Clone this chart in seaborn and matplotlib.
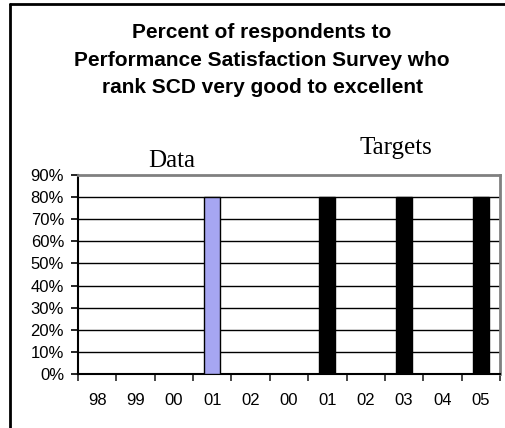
import matplotlib
matplotlib.use("Agg")
import matplotlib.pyplot as plt
from matplotlib.lines import Line2D
from matplotlib.ticker import MultipleLocator, FixedLocator, PercentFormatter
import seaborn as sns
import pandas as pd

# Year labels along the x axis (survey years, then target years)
year_labels = ["98", "99", "00", "01", "02", "00", "01", "02", "03", "04", "05"]

# Measured survey result
data_positions = [3]
data_values = [80]

# Target levels
target_positions = [6, 8, 10]
target_values = [80, 80, 80]

series_colors = {"Data": "#9999FF", "Targets": "#000000"}

df = pd.DataFrame({
    "pos": data_positions + target_positions,
    "value": data_values + target_values,
    "series": ["Data"] * len(data_positions) + ["Targets"] * len(target_positions),
})

sns.set_style("white")
plt.rcParams["font.family"] = ["Liberation Sans", "DejaVu Sans"]

W, H = 505, 428
fig = plt.figure(figsize=(W / 100, H / 100), dpi=100)
ax = fig.add_axes([78 / W, 1 - 374 / H, (500 - 78) / W, (374 - 175) / H])

sns.barplot(data=df, x="pos", y="value", hue="series", order=list(range(len(year_labels))),
            palette=series_colors, dodge=False, width=0.42, edgecolor="black",
            linewidth=1.0, legend=False, ax=ax, zorder=3)

ax.set_xlim(-0.5, len(year_labels) - 0.5)
ax.set_ylim(0, 90)

# Horizontal gridlines every 10%
for v in range(10, 90, 10):
    ax.axhline(v, color="black", linewidth=1.0, zorder=1)

ax.yaxis.set_major_locator(MultipleLocator(10))
ax.yaxis.set_major_formatter(PercentFormatter(decimals=0))
ax.tick_params(axis="y", which="major", length=5, width=1.2, direction="out",
               left=True, pad=5, labelsize=12, colors="black")

ax.set_xticks(range(len(year_labels)))
ax.set_xticklabels(year_labels)
ax.xaxis.set_minor_locator(FixedLocator([i - 0.5 for i in range(len(year_labels) + 1)]))
ax.tick_params(axis="x", which="major", length=0, pad=14, labelsize=12, colors="black")
ax.tick_params(axis="x", which="minor", length=5, width=1.2, direction="out", bottom=True)

ax.set_xlabel("")
ax.set_ylabel("")

for side in ("left", "bottom"):
    ax.spines[side].set_color("black")
    ax.spines[side].set_linewidth(1.5)
for side in ("top", "right"):
    ax.spines[side].set_color("#808080")
    ax.spines[side].set_linewidth(2.0)
    ax.spines[side].set_visible(True)

# Title block
title_lines = ["Percent of respondents to",
               "Performance Satisfaction Survey who",
               "rank SCD very good to excellent"]
for i, line in enumerate(title_lines):
    fig.text(262 / W, 1 - (38 + 27.5 * i) / H, line, ha="center", va="baseline",
             fontsize=15, fontweight="bold", color="black")

# Section labels above the bars
fig.text(172 / W, 1 - 167 / H, "Data", ha="center", va="baseline",
         fontsize=18, family=["Liberation Serif", "DejaVu Serif"], color="black")
fig.text(396 / W, 1 - 154 / H, "Targets", ha="center", va="baseline",
         fontsize=18, family=["Liberation Serif", "DejaVu Serif"], color="black")

# Chart frame
fig.add_artist(Line2D([10 / W, 10 / W], [0, 1 - 4 / H], transform=fig.transFigure,
                      color="black", linewidth=2.0))
fig.add_artist(Line2D([10 / W, 1.0], [1 - 4 / H, 1 - 4 / H], transform=fig.transFigure,
                      color="black", linewidth=2.0))

fig.savefig("out.png", dpi=100)
